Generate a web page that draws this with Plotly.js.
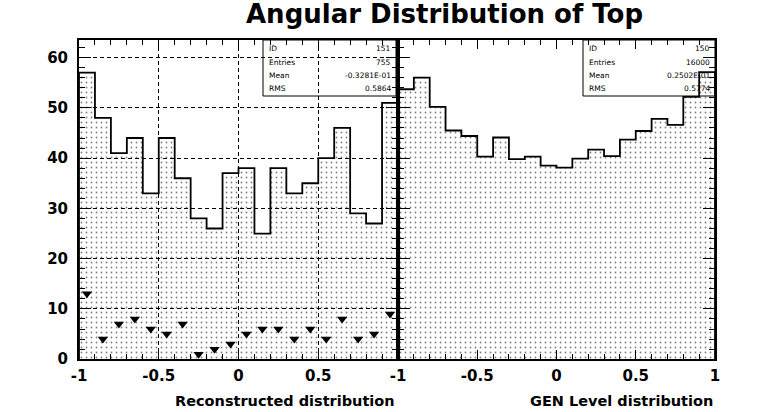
<!DOCTYPE html>
<html><head><meta charset="utf-8">
<script src="https://cdn.plot.ly/plotly-3.0.1.min.js"></script>
<style>html,body{margin:0;padding:0;background:#fff;} #chart{width:763px;height:412px;}</style>
</head><body><div id="chart"></div>
<script>
// ---- data ----
const binCenters = [-0.95,-0.85,-0.75,-0.65,-0.55,-0.45,-0.35,-0.25,-0.15,-0.05,0.05,0.15,0.25,0.35,0.45,0.55,0.65,0.75,0.85,0.95];
const recoCounts = [57,48,41,44,33,44,36,28,26,37,38,25,38,33,35,40,46,29,27,51];
const recoMarkers = [13,4,7,8,6,5,7,1,2,3,5,6,6,4,6,4,8,4,5,9];
const genCounts = [53.7,56.0,50.2,45.5,44.4,40.3,44.1,39.8,40.3,38.5,38.1,39.9,41.7,40.4,43.7,45.4,47.8,46.6,52.2,57.1];
const xTickVals = [-1,-0.5,0,0.5,1];
const leftTickText = ['-1','-0.5','0','0.5',''];
const rightTickText = ['-1','-0.5','0','0.5','1'];
const yTickVals = [0,10,20,30,40,50,60];
const statLabels = ['ID','Entries','Mean','RMS'];
const recoStats = ['151','755','-0.3281E-01','0.5864'];
const genStats = ['150','16000','0.2502E-01','0.5774'];
const chartTitle = 'Angular Distribution of Top';
const recoTitle = 'Reconstructed distribution';
const genTitle = 'GEN Level distribution';

// ---- helpers ----
const W = 763, H = 412;
const px = v => v / W;
const py = v => (H - v) / H;
const binWidth = 0.1;
const lowEdges = binCenters.map(c => +(c - binWidth/2).toFixed(4));
const highEnd = +(binCenters[binCenters.length-1] + binWidth/2).toFixed(4);
function stepLine(counts, xa, ya){
  return {type:'scatter', mode:'lines', xaxis:xa, yaxis:ya,
    x:[lowEdges[0]].concat(lowEdges, [highEnd, highEnd]),
    y:[0].concat(counts, [counts[counts.length-1], 0]),
    line:{shape:'hv', color:'#000', width:1.8}, hoverinfo:'skip', cliponaxis:false};
}
function histBars(counts, xa, ya){
  return {type:'bar', xaxis:xa, yaxis:ya, x:binCenters, y:counts, width:binWidth,
    marker:{color:'rgba(0,0,0,0)', line:{width:0},
      pattern:{shape:'.', fgcolor:'#000', bgcolor:'rgba(0,0,0,0)', size:5, solidity:0.1, fillmode:'overlay'}}};
}

const traces = [
  histBars(recoCounts,'x','y'),
  stepLine(recoCounts,'x','y'),
  {type:'scatter', mode:'markers', xaxis:'x', yaxis:'y', x:binCenters, y:recoMarkers,
   marker:{symbol:'triangle-down', size:9, color:'#000'}},
  histBars(genCounts,'x2','y2'),
  stepLine(genCounts,'x2','y2')
];

const tickFont = {family:'DejaVu Sans', size:15, color:'#000', weight:'bold'};
const gridStyle = {showgrid:true, gridcolor:'#000', griddash:'4px,3px', gridwidth:1};
const xCommon = {range:[-1,1], tickmode:'array', tickvals:xTickVals, ticks:'inside', ticklen:9, tickwidth:1,
  tickcolor:'#000', showline:true, linewidth:2, linecolor:'#000', mirror:'ticks', zeroline:false,
  tickfont:tickFont, ticklabelstandoff:2,
  minor:{tickmode:'array', tickvals:lowEdges, ticks:'inside', ticklen:5, tickwidth:1, tickcolor:'#000', showgrid:false}};
const yCommon = {range:[0,63.5], tickmode:'array', tickvals:yTickVals, ticks:'inside', ticklen:12, tickwidth:1,
  tickcolor:'#000', showline:true, linewidth:2, linecolor:'#000', mirror:'ticks', zeroline:false,
  tickfont:tickFont, ticklabelstandoff:6,
  minor:{tickmode:'linear', tick0:0, dtick:2, ticks:'inside', ticklen:6, tickwidth:1, tickcolor:'#000', showgrid:false}};
const yDomain = [py(359.2), py(40)];

const annotations = [
  {text:recoTitle, xref:'paper', yref:'paper', x:px(397), y:py(401), xanchor:'right', yanchor:'middle', showarrow:false,
   font:{family:'DejaVu Sans', size:14.5, color:'#000', weight:'bold'}},
  {text:genTitle, xref:'paper', yref:'paper', x:px(715), y:py(401), xanchor:'right', yanchor:'middle', showarrow:false,
   font:{family:'DejaVu Sans', size:14.5, color:'#000', weight:'bold'}},
  {text:chartTitle, xref:'paper', yref:'paper', x:px(445), y:py(14), xanchor:'center', yanchor:'middle', showarrow:false,
   font:{family:'DejaVu Sans', size:26, color:'#000', weight:'bold'}}
];
const statRowsY = [49, 62, 75, 88];
const statFont = {family:'DejaVu Sans', size:7.5, color:'#000'};
function addStats(labels, values, lx, rx){
  labels.forEach((l,i)=>{
    annotations.push({text:l, xref:'paper', yref:'paper', x:px(lx), y:py(statRowsY[i]), xanchor:'left', yanchor:'middle', showarrow:false, font:statFont});
    annotations.push({text:values[i], xref:'paper', yref:'paper', x:px(rx), y:py(statRowsY[i]), xanchor:'right', yanchor:'middle', showarrow:false, font:statFont});
  });
}
addStats(statLabels, recoStats, 267, 393);
addStats(statLabels, genStats, 587, 712);

const shapes = [
  {type:'rect', xref:'paper', yref:'paper', x0:px(263), x1:px(396), y0:py(96), y1:py(40), line:{color:'#000', width:1}, fillcolor:'rgba(0,0,0,0)'},
  {type:'rect', xref:'paper', yref:'paper', x0:px(583), x1:px(715), y0:py(96), y1:py(40), line:{color:'#000', width:1}, fillcolor:'rgba(0,0,0,0)'}
];

const layout = {
  width:W, height:H, margin:{l:0,r:0,t:0,b:0}, showlegend:false, bargap:0,
  paper_bgcolor:'#fff', plot_bgcolor:'#fff',
  xaxis:Object.assign({}, xCommon, gridStyle, {domain:[px(79), px(398)], anchor:'y', ticktext:leftTickText}),
  yaxis:Object.assign({}, yCommon, gridStyle, {domain:yDomain, anchor:'x'}),
  xaxis2:Object.assign({}, xCommon, {domain:[px(398), px(715)], anchor:'y2', ticktext:rightTickText, showgrid:false}),
  yaxis2:Object.assign({}, yCommon, {domain:yDomain, anchor:'x2', showticklabels:false, showgrid:false}),
  annotations:annotations, shapes:shapes
};
Plotly.newPlot('chart', traces, layout, {staticPlot:true, displayModeBar:false});
</script></body></html>
